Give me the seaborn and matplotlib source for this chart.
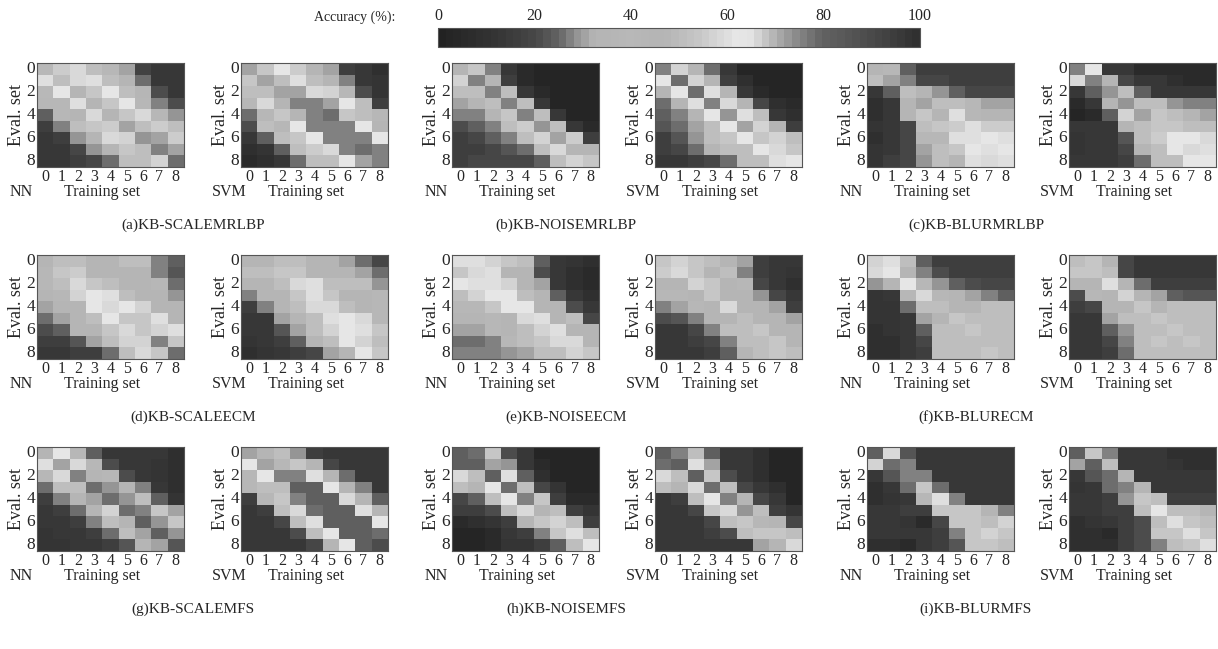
import numpy as np
import seaborn as sns
import matplotlib.pyplot as plt
from matplotlib.colors import LinearSegmentedColormap

# -----------------------------
# Data: accuracy (%) per (eval set row, training set column)
# -----------------------------
levels = [0, 1, 2, 3, 4, 5, 6, 7, 8]

scale_mrlbp_nn = [
    [40, 55, 58, 50, 42, 31, 18, 13, 13],
    [60, 50, 58, 60, 50, 45, 25, 13, 13],
    [40, 61, 35, 54, 61, 50, 36, 21, 14],
    [42, 42, 60, 35, 54, 62, 42, 28, 21],
    [24, 42, 45, 58, 45, 54, 59, 42, 29],
    [17, 27, 50, 54, 56, 31, 50, 56, 50],
    [13, 17, 29, 45, 58, 57, 29, 31, 56],
    [13, 13, 19, 29, 45, 54, 50, 27, 31],
    [13, 13, 17, 19, 25, 50, 50, 57, 25],
]
scale_mrlbp_svm = [
    [31, 54, 62, 56, 45, 31, 17, 13, 9],
    [54, 30, 50, 60, 50, 45, 27, 13, 11],
    [50, 50, 30, 30, 59, 57, 42, 21, 11],
    [42, 58, 35, 27, 27, 30, 62, 50, 17],
    [25, 42, 54, 35, 27, 25, 54, 50, 42],
    [21, 50, 42, 62, 28, 27, 27, 62, 35],
    [13, 24, 50, 54, 62, 28, 27, 27, 62],
    [9, 11, 24, 50, 56, 59, 27, 25, 27],
    [6, 9, 13, 25, 50, 50, 62, 30, 27],
]
noise_mrlbp_nn = [
    [35, 54, 27, 13, 6, 2, 2, 2, 2],
    [57, 27, 35, 17, 6, 2, 2, 2, 2],
    [50, 50, 27, 50, 13, 6, 3, 2, 2],
    [31, 35, 50, 27, 50, 13, 3, 2, 2],
    [27, 27, 35, 54, 28, 50, 13, 3, 2],
    [21, 24, 27, 50, 56, 29, 50, 13, 6],
    [17, 19, 24, 27, 50, 57, 31, 56, 17],
    [17, 17, 19, 22, 26, 50, 59, 45, 45],
    [17, 19, 19, 19, 19, 24, 50, 57, 54],
]
noise_mrlbp_svm = [
    [27, 57, 45, 26, 13, 2, 2, 2, 2],
    [62, 25, 57, 45, 17, 9, 3, 2, 2],
    [45, 62, 26, 60, 45, 13, 6, 3, 2],
    [25, 45, 60, 27, 59, 45, 19, 9, 6],
    [24, 27, 45, 62, 29, 60, 50, 13, 9],
    [22, 26, 31, 50, 62, 30, 57, 45, 17],
    [17, 22, 29, 50, 54, 62, 54, 57, 50],
    [17, 19, 26, 35, 50, 50, 62, 59, 54],
    [13, 13, 17, 19, 26, 50, 50, 60, 62],
]
blur_mrlbp_nn = [
    [35, 42, 24, 17, 17, 17, 17, 17, 17],
    [50, 31, 28, 19, 19, 17, 17, 17, 17],
    [13, 24, 50, 45, 29, 24, 19, 19, 19],
    [9, 13, 45, 31, 50, 50, 42, 31, 31],
    [9, 13, 35, 54, 45, 60, 42, 45, 45],
    [11, 13, 19, 50, 54, 56, 60, 56, 56],
    [9, 13, 19, 42, 42, 60, 60, 62, 60],
    [11, 13, 19, 31, 50, 54, 62, 60, 62],
    [11, 17, 19, 29, 50, 45, 60, 59, 60],
]
blur_mrlbp_svm = [
    [27, 62, 13, 13, 6, 6, 6, 6, 6],
    [59, 28, 45, 19, 13, 13, 9, 6, 6],
    [13, 24, 29, 50, 24, 13, 13, 13, 13],
    [6, 13, 45, 29, 50, 50, 29, 27, 27],
    [3, 6, 24, 57, 31, 54, 50, 45, 31],
    [13, 13, 13, 35, 50, 54, 54, 50, 50],
    [11, 13, 13, 22, 50, 56, 62, 62, 59],
    [11, 13, 13, 19, 45, 50, 62, 59, 60],
    [13, 13, 13, 17, 26, 50, 50, 62, 62],
]
scale_ecm_nn = [
    [45, 50, 50, 45, 45, 50, 50, 27, 24],
    [42, 54, 56, 45, 45, 45, 45, 27, 22],
    [42, 50, 59, 54, 50, 45, 45, 42, 26],
    [35, 42, 57, 62, 60, 50, 45, 45, 29],
    [31, 45, 45, 62, 59, 62, 57, 45, 45],
    [26, 31, 45, 50, 62, 54, 54, 60, 45],
    [21, 24, 35, 45, 54, 59, 54, 57, 60],
    [17, 17, 22, 30, 50, 57, 57, 28, 54],
    [13, 13, 17, 17, 26, 50, 59, 54, 26],
]
scale_ecm_svm = [
    [45, 45, 50, 50, 45, 45, 31, 25, 20],
    [50, 50, 54, 54, 45, 45, 45, 31, 26],
    [45, 45, 50, 59, 60, 50, 50, 50, 29],
    [28, 45, 45, 54, 60, 54, 45, 45, 42],
    [17, 27, 45, 50, 59, 59, 50, 45, 42],
    [13, 13, 31, 45, 50, 60, 62, 59, 42],
    [13, 13, 22, 30, 50, 57, 62, 60, 54],
    [11, 13, 17, 24, 45, 50, 62, 57, 50],
    [9, 11, 13, 17, 19, 31, 35, 62, 54],
]
noise_ecm_nn = [
    [60, 60, 57, 54, 50, 24, 13, 11, 9],
    [54, 59, 60, 45, 45, 21, 13, 9, 6],
    [62, 60, 60, 57, 35, 31, 13, 9, 6],
    [50, 57, 62, 62, 50, 45, 24, 13, 9],
    [42, 42, 54, 62, 62, 45, 45, 21, 13],
    [35, 35, 42, 45, 59, 60, 45, 50, 19],
    [30, 30, 42, 45, 50, 57, 60, 45, 45],
    [26, 26, 27, 42, 50, 54, 59, 59, 45],
    [27, 27, 27, 29, 31, 50, 50, 57, 54],
]
noise_ecm_svm = [
    [54, 57, 54, 50, 45, 31, 17, 13, 13],
    [56, 59, 54, 45, 50, 27, 17, 13, 11],
    [45, 45, 57, 54, 45, 42, 19, 13, 9],
    [42, 42, 45, 54, 45, 45, 29, 19, 13],
    [28, 31, 42, 45, 59, 45, 45, 31, 17],
    [21, 22, 27, 45, 45, 50, 45, 45, 31],
    [13, 13, 19, 27, 50, 50, 54, 45, 45],
    [13, 13, 17, 19, 27, 50, 50, 54, 45],
    [13, 13, 13, 17, 24, 35, 50, 54, 50],
]
blur_ecm_nn = [
    [57, 60, 50, 24, 17, 17, 17, 17, 17],
    [59, 62, 35, 27, 21, 17, 17, 17, 17],
    [29, 45, 62, 42, 29, 24, 21, 19, 19],
    [11, 13, 42, 59, 42, 45, 31, 27, 24],
    [11, 11, 26, 50, 50, 45, 45, 50, 50],
    [11, 11, 13, 31, 45, 54, 50, 50, 50],
    [9, 11, 13, 24, 50, 50, 54, 50, 50],
    [9, 9, 13, 19, 50, 50, 50, 50, 50],
    [9, 9, 13, 17, 50, 50, 50, 54, 50],
]
blur_ecm_svm = [
    [50, 54, 45, 19, 13, 13, 13, 13, 13],
    [54, 54, 50, 19, 13, 13, 13, 13, 13],
    [45, 45, 60, 45, 26, 17, 17, 17, 17],
    [21, 42, 45, 57, 45, 31, 24, 22, 22],
    [17, 19, 45, 45, 54, 45, 50, 50, 50],
    [13, 13, 30, 50, 50, 54, 50, 50, 50],
    [13, 13, 24, 29, 50, 50, 54, 50, 50],
    [13, 13, 19, 27, 50, 54, 50, 54, 50],
    [13, 13, 17, 26, 50, 50, 50, 50, 50],
]
scale_mfs_nn = [
    [35, 62, 42, 24, 13, 13, 13, 13, 9],
    [60, 31, 59, 42, 21, 13, 13, 11, 9],
    [42, 59, 27, 35, 42, 21, 13, 11, 9],
    [26, 50, 50, 25, 29, 45, 27, 13, 9],
    [17, 27, 45, 31, 25, 29, 50, 24, 11],
    [13, 17, 26, 45, 57, 26, 27, 54, 31],
    [13, 13, 17, 27, 50, 45, 24, 29, 54],
    [11, 13, 13, 17, 26, 50, 31, 24, 29],
    [11, 11, 13, 13, 17, 22, 45, 31, 22],
]
scale_mfs_svm = [
    [30, 45, 50, 29, 17, 13, 13, 13, 13],
    [62, 31, 42, 54, 35, 19, 13, 13, 13],
    [42, 62, 27, 27, 60, 45, 26, 13, 13],
    [42, 50, 50, 24, 24, 62, 45, 27, 13],
    [17, 42, 54, 28, 24, 24, 59, 45, 24],
    [13, 17, 50, 59, 26, 24, 24, 60, 45],
    [13, 13, 19, 50, 60, 24, 24, 24, 62],
    [13, 13, 13, 21, 50, 62, 24, 24, 25],
    [13, 13, 13, 13, 19, 45, 62, 24, 21],
]
noise_mfs_nn = [
    [24, 26, 54, 21, 13, 3, 3, 3, 3],
    [24, 24, 31, 29, 13, 6, 3, 3, 3],
    [59, 50, 24, 60, 24, 9, 3, 3, 3],
    [50, 45, 62, 26, 50, 19, 11, 3, 3],
    [19, 24, 50, 62, 27, 54, 17, 6, 6],
    [17, 17, 21, 50, 59, 35, 50, 17, 11],
    [6, 9, 11, 17, 35, 54, 57, 50, 17],
    [3, 3, 6, 13, 17, 27, 54, 60, 50],
    [3, 3, 6, 11, 11, 17, 24, 50, 62],
]
noise_mfs_svm = [
    [24, 27, 50, 24, 13, 13, 9, 3, 3],
    [25, 24, 60, 31, 13, 13, 9, 3, 3],
    [59, 50, 24, 54, 21, 13, 9, 3, 3],
    [50, 45, 59, 25, 50, 19, 13, 9, 3],
    [13, 17, 50, 62, 27, 45, 19, 13, 3],
    [13, 13, 19, 54, 59, 29, 50, 17, 11],
    [13, 13, 13, 19, 50, 54, 42, 45, 19],
    [13, 13, 13, 17, 21, 50, 54, 54, 50],
    [13, 13, 13, 13, 13, 13, 31, 45, 59],
]
blur_mfs_nn = [
    [24, 59, 22, 13, 13, 13, 13, 13, 13],
    [57, 26, 27, 13, 13, 13, 13, 13, 13],
    [13, 22, 27, 27, 13, 13, 13, 13, 13],
    [9, 13, 25, 54, 26, 13, 13, 13, 13],
    [9, 11, 13, 42, 60, 27, 13, 13, 13],
    [13, 13, 17, 17, 54, 54, 54, 35, 27],
    [13, 13, 11, 6, 19, 54, 54, 50, 57],
    [13, 13, 13, 13, 17, 27, 54, 57, 54],
    [9, 9, 6, 13, 17, 22, 54, 54, 50],
]
blur_mfs_svm = [
    [24, 54, 27, 13, 13, 13, 9, 9, 9],
    [31, 24, 50, 13, 13, 13, 11, 9, 9],
    [13, 22, 25, 45, 13, 13, 13, 13, 13],
    [11, 13, 26, 28, 45, 13, 13, 13, 13],
    [13, 13, 17, 29, 54, 50, 17, 17, 17],
    [13, 13, 17, 17, 50, 62, 50, 50, 35],
    [9, 11, 13, 17, 21, 50, 60, 54, 50],
    [9, 9, 6, 17, 21, 54, 54, 60, 54],
    [9, 9, 9, 17, 21, 27, 50, 54, 60],
]

captions = [
    "(a)KB-SCALEMRLBP", "(b)KB-NOISEMRLBP", "(c)KB-BLURMRLBP",
    "(d)KB-SCALEECM", "(e)KB-NOISEECM", "(f)KB-BLURECM",
    "(g)KB-SCALEMFS", "(h)KB-NOISEMFS", "(i)KB-BLURMFS",
]
panels = [
    (scale_mrlbp_nn, scale_mrlbp_svm), (noise_mrlbp_nn, noise_mrlbp_svm), (blur_mrlbp_nn, blur_mrlbp_svm),
    (scale_ecm_nn, scale_ecm_svm), (noise_ecm_nn, noise_ecm_svm), (blur_ecm_nn, blur_ecm_svm),
    (scale_mfs_nn, scale_mfs_svm), (noise_mfs_nn, noise_mfs_svm), (blur_mfs_nn, blur_mfs_svm),
]

# -----------------------------
# Colormap (grey, non-monotonic like the original colorbar)
# -----------------------------
gray_pts = [(0.00, 34), (0.05, 42), (0.10, 50), (0.15, 60), (0.20, 72), (0.22, 84),
            (0.24, 96), (0.26, 114), (0.28, 144), (0.30, 162), (0.32, 180), (0.40, 184),
            (0.47, 180), (0.50, 188), (0.54, 198), (0.57, 210), (0.60, 222), (0.62, 230),
            (0.65, 228), (0.67, 210), (0.70, 180), (0.75, 136), (0.80, 98), (0.85, 88),
            (0.90, 75), (0.95, 62), (1.00, 48)]
cmap = LinearSegmentedColormap.from_list(
    "acc", [(p, (g / 255, g / 255, g / 255)) for p, g in gray_pts], N=64)

# -----------------------------
# Plot
# -----------------------------
sns.set_style("white")
plt.rcParams["font.family"] = ["Liberation Serif", "DejaVu Serif"]

W, H = 1218, 649
fig = plt.figure(figsize=(W / 100, H / 100), dpi=100)


def px_axes(x0, y0, x1, y1):
    return fig.add_axes([x0 / W, 1 - y1 / H, (x1 - x0) / W, (y1 - y0) / H])


nn_left = [37, 452, 867]
svm_left = [241, 655, 1069]
row_top = [63, 255, 447]
hm_w, hm_h = 147, 104
cap_x = [193, 566, 976]

mesh = None
for i, (pair, cap) in enumerate(zip(panels, captions)):
    r, c = divmod(i, 3)
    y0 = row_top[r]
    for data, x0, name, name_off in [(pair[0], nn_left[c], "NN", 27),
                                     (pair[1], svm_left[c], "SVM", 29)]:
        ax = px_axes(x0, y0, x0 + hm_w, y0 + hm_h)
        sns.heatmap(np.array(data), ax=ax, cmap=cmap, vmin=0, vmax=100, cbar=False,
                    xticklabels=levels, yticklabels=levels)
        mesh = ax.collections[0]
        ax.set_yticks([0.5, 2.5, 4.5, 6.5, 8.5])
        ax.set_yticklabels(["0", "2", "4", "6", "8"], rotation=0)
        ax.set_xticklabels(levels, rotation=0)
        ax.tick_params(axis="both", direction="in", length=2.5, width=0.6,
                       color="#666666", labelsize=11.5, pad=1.5,
                       top=True, right=True, left=True, bottom=True)
        ax.tick_params(axis="y", labelsize=12.5)
        for sp in ax.spines.values():
            sp.set_visible(True)
            sp.set_color("#555555")
            sp.set_linewidth(0.8)
        ax.set_ylabel("Eval. set", fontsize=13, labelpad=1)
        ax.set_xlabel("")
        fig.text((x0 - name_off) / W, 1 - (y0 + hm_h + 25) / H, name,
                 fontsize=11.5, ha="left", va="center")
        fig.text((x0 + hm_w / 2 - 8) / W, 1 - (y0 + hm_h + 25) / H, "Training set",
                 fontsize=11.5, ha="center", va="center")
    fig.text(cap_x[c] / W, 1 - (y0 + 162) / H, cap, fontsize=11,
             ha="center", va="center")

# Colorbar on top
cax = px_axes(438, 28, 920, 47)
cb = fig.colorbar(mesh, cax=cax, orientation="horizontal", ticks=[0, 20, 40, 60, 80, 100])
cax.tick_params(axis="x", direction="in", length=3, width=0.6, color="#555555",
                top=True, bottom=True, labeltop=True, labelbottom=False,
                labelsize=11.5, pad=3)
cb.outline.set_edgecolor("#555555")
cb.outline.set_linewidth(0.8)
fig.text(395 / W, 1 - 17 / H, "Accuracy (%):", fontsize=10, ha="right", va="center")

fig.savefig("out.png", dpi=100)
